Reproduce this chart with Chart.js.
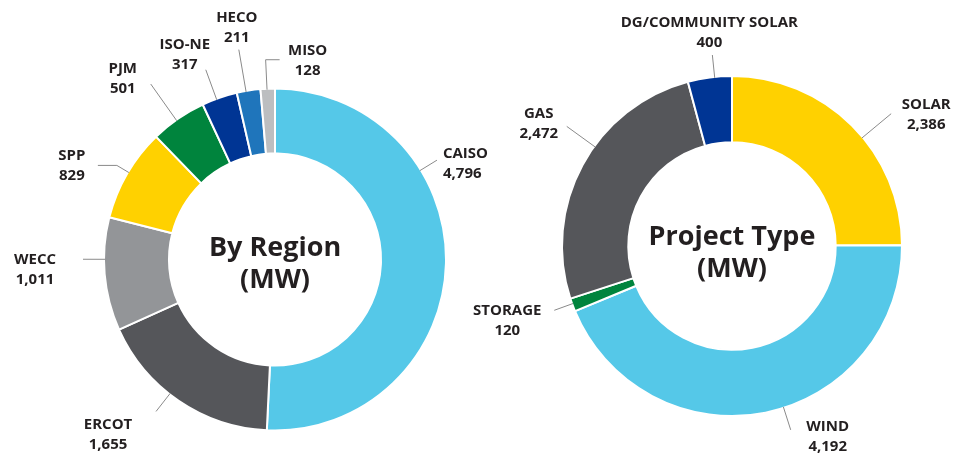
<!DOCTYPE html>
<html>
<head>
<meta charset="utf-8">
<script src="https://cdn.jsdelivr.net/npm/chart.js@4/dist/chart.umd.min.js"></script>
<style>
  html, body { margin: 0; padding: 0; background: #fff; }
  .wrap { position: relative; width: 967px; height: 454px; }
  .wrap canvas { position: absolute; left: 0; top: 0; }
</style>
</head>
<body>
<div class="wrap">
  <canvas id="regionChart" width="967" height="454"></canvas>
  <canvas id="typeChart" width="967" height="454"></canvas>
</div>
<script>
// data
const regionLabels = ['CAISO', 'ERCOT', 'WECC', 'SPP', 'PJM', 'ISO-NE', 'HECO', 'MISO'];
const regionValues = [4796, 1655, 1011, 829, 501, 317, 211, 128];
const typeLabels = ['SOLAR', 'WIND', 'STORAGE', 'GAS', 'DG/COMMUNITY SOLAR'];
const typeValues = [2386, 4192, 120, 2472, 400];

// colours
const regionColors = ['#55c8e8', '#55565a', '#939598', '#ffd100', '#00843d', '#003594', '#1f75bb', '#bcbec0'];
const typeColors = ['#ffd100', '#55c8e8', '#00843d', '#55565a', '#003594'];

// leader lines: t = where on the slice, len = radial length, elbow = horizontal bit, dx/dy = label offset
const regionLeaders = [
  {t: 0.32, len: 20, dx: 6, dy: -6, align: 'left'},
  {t: 0.56, len: 23, dx: -48, dy: 13},
  {t: 0.63, len: 22, dx: -48, dy: 0},
  {t: 0.52, len: 14, elbow: -19, dx: -26, dy: -10},
  {t: 0.46, len: 45, dx: -28, dy: -15},
  {t: 0.41, len: 32, dx: -21, dy: -25},
  {t: 0.39, len: 43, dx: -2, dy: -32},
  {t: 0.45, len: 30, elbow: 14, dx: 28, dy: -9}
];
const typeLeaders = [
  {t: 0.56, len: 38, dx: 35, dy: -9},
  {t: 0.46, len: 24, dx: 37, dy: -3},
  {t: 0.59, len: 20, dx: -47, dy: 0},
  {t: 0.58, len: 35, dx: -28, dy: -13},
  {t: 0.61, len: 23, dx: -3, dy: -32}
];

const leaderPlugin = {
  id: 'leaders',
  afterDraw(chart, args, opts) {
    const ctx = chart.ctx;
    const arcs = chart.getDatasetMeta(0).data;
    const labels = chart.data.labels;
    const values = chart.data.datasets[0].data;
    ctx.save();
    arcs.forEach((arc, i) => {
      const L = opts.items[i];
      const p = arc.getProps(['x', 'y', 'startAngle', 'endAngle', 'outerRadius'], true);
      const r = p.outerRadius - 1;
      const a = p.startAngle + (p.endAngle - p.startAngle) * L.t;
      const x0 = p.x + Math.cos(a) * r;
      const y0 = p.y + Math.sin(a) * r;
      let x1 = p.x + Math.cos(a) * (r + L.len);
      let y1 = p.y + Math.sin(a) * (r + L.len);
      ctx.beginPath();
      ctx.strokeStyle = '#8a8a8a';
      ctx.lineWidth = 1;
      ctx.moveTo(x0, y0);
      ctx.lineTo(x1, y1);
      if (L.elbow) {
        x1 += L.elbow;
        ctx.lineTo(x1, y1);
      }
      ctx.stroke();

      ctx.fillStyle = '#231f20';
      ctx.font = 'bold 15px "Open Sans"';
      ctx.textAlign = L.align || 'center';
      ctx.textBaseline = 'middle';
      ctx.fillText(labels[i], x1 + L.dx, y1 + L.dy);
      ctx.fillText(values[i].toLocaleString('en-US'), x1 + L.dx, y1 + L.dy + 20);
    });

    // title in the hole
    const c = arcs[0];
    ctx.font = 'bold 27px "Open Sans"';
    ctx.textAlign = 'center';
    ctx.textBaseline = 'middle';
    ctx.fillText(opts.title[0], c.x, c.y + opts.titleShift);
    ctx.fillText(opts.title[1], c.x, c.y + opts.titleShift + 32);
    ctx.restore();
  }
};

function makeDoughnut(id, labels, values, colors, leaders, title, padding, cutout, titleShift) {
  return new Chart(id, {
    type: 'doughnut',
    data: {
      labels: labels,
      datasets: [{
        data: values,
        backgroundColor: colors,
        borderColor: '#ffffff',
        borderWidth: 2
      }]
    },
    options: {
      responsive: false,
      animation: false,
      cutout: cutout,
      layout: {padding: padding},
      plugins: {
        legend: {display: false},
        tooltip: {enabled: false},
        leaders: {items: leaders, title: title, titleShift: titleShift}
      }
    },
    plugins: [leaderPlugin]
  });
}

makeDoughnut('regionChart', regionLabels, regionValues, regionColors, regionLeaders,
  ['By Region', '(MW)'], {left: 103, right: 520, top: 87.5, bottom: 22.5}, '62%', -11);
makeDoughnut('typeChart', typeLabels, typeValues, typeColors, typeLeaders,
  ['Project Type', '(MW)'], {left: 561, right: 64, top: 75, bottom: 37}, '61%', -9);
</script>
</body>
</html>
